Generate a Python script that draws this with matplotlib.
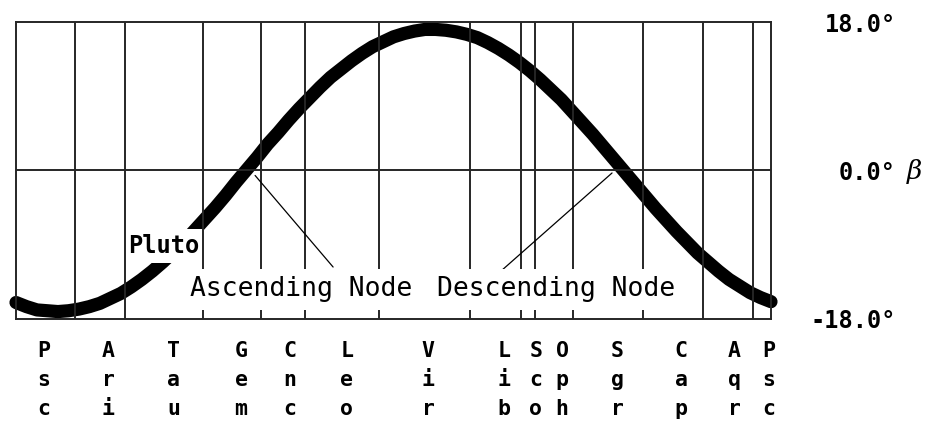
import matplotlib
matplotlib.use("Agg")
import matplotlib.pyplot as plt

# ---- data ----
# ecliptic longitude (deg) and Pluto's ecliptic latitude beta (deg)
longitude = list(range(0, 361, 5))
beta = [-16.0, -16.5, -16.9, -17.0, -17.1, -17.0, -16.8, -16.5, -16.1, -15.5,
        -14.9, -14.1, -13.2, -12.2, -11.1, -9.9, -8.7, -7.3, -5.9, -4.5,
        -3.0, -1.4, 0.1, 1.6, 3.2, 4.6, 6.1, 7.5, 8.8, 10.1,
        11.3, 12.3, 13.3, 14.2, 15.0, 15.6, 16.2, 16.6, 16.9, 17.1,
        17.1, 17.0, 16.8, 16.5, 16.1, 15.5, 14.8, 14.0, 13.1, 12.1,
        11.0, 9.8, 8.6, 7.2, 5.8, 4.4, 2.9, 1.4, -0.1, -1.6,
        -3.1, -4.6, -6.0, -7.4, -8.7, -10.0, -11.1, -12.2, -13.2, -14.0,
        -14.8, -15.4, -15.9]

# constellation boundaries along the ecliptic (deg)
boundaries = [28.1, 52.0, 89.2, 116.8, 137.8, 173.1, 216.7, 240.8, 247.5, 265.5,
              298.9, 327.5, 351.6]

# constellation labels and their longitudes
const_names = ["Psc", "Ari", "Tau", "Gem", "Cnc", "Leo", "Vir", "Lib", "Sco",
               "Oph", "Sgr", "Cap", "Aqr", "Psc"]
const_lons = [13.0, 44.0, 75.3, 107.3, 130.7, 157.8, 196.5, 232.7, 247.8, 260.4,
              286.6, 317.1, 342.4, 359.1]

ytick_vals = [18, 0, -18]
ytick_labels = ["18.0°", "0.0°", "-18.0°"]

asc_node = 110.0
desc_node = 289.8

# ---- figure ----
W, H = 928, 423
fig = plt.figure(figsize=(W / 100, H / 100), dpi=100)
ax = fig.add_axes([16 / W, 1 - 319 / H, 755 / W, 297 / H])
ax.set_xlim(0, 360)
ax.set_ylim(-18, 18)

mono = "DejaVu Sans Mono"
line_col = "#262626"

for s in ax.spines.values():
    s.set_linewidth(1.4)
    s.set_color(line_col)
    s.set_zorder(4)

# grid: constellation boundaries and the ecliptic
for b in boundaries:
    ax.axvline(b, color=line_col, lw=1.4, zorder=4)
ax.axhline(0, color=line_col, lw=1.4, zorder=4)

# Pluto's path
ax.plot(longitude, beta, color="black", lw=9.5, solid_capstyle="round",
        solid_joinstyle="round", zorder=2, clip_on=False)

# label Pluto (white box hides the path underneath)
ax.text(53.4, -10.0, "Pluto", ha="left", va="baseline", fontsize=17,
        family=mono, fontweight="bold", zorder=3,
        bbox=dict(boxstyle="square,pad=0.2", fc="white", ec="none"))

# node annotations
ax.annotate("", xy=(asc_node + 4.0, -0.6), xytext=(151.2, -11.7),
            arrowprops=dict(arrowstyle="-", lw=0.9, color="black",
                            shrinkA=0, shrinkB=0), zorder=5)
ax.annotate("", xy=(desc_node - 5.6, -0.3), xytext=(230.3, -12.4),
            arrowprops=dict(arrowstyle="-", lw=0.9, color="black",
                            shrinkA=0, shrinkB=0), zorder=5)

ax.text(83.0, -15.27, "Ascending Node", ha="left", va="baseline", fontsize=19,
        family=mono, zorder=6,
        bbox=dict(boxstyle="square,pad=0.3", fc="white", ec="none"))
ax.text(200.8, -15.27, "Descending Node", ha="left", va="baseline", fontsize=19,
        family=mono, zorder=6,
        bbox=dict(boxstyle="square,pad=0.3", fc="white", ec="none"))

# constellation labels (letters stacked)
ax.set_xticks(const_lons)
ax.set_xticklabels(["\n".join(n) for n in const_names], family=mono,
                   fontweight="bold", fontsize=15.5, linespacing=1.56)
ax.tick_params(axis="x", length=0, pad=16)

# latitude labels on the right
ax.yaxis.tick_right()
ax.set_yticks(ytick_vals)
ax.set_yticklabels(ytick_labels, family=mono, fontweight="bold", fontsize=17)
ax.tick_params(axis="y", length=0, pad=90)
for lab in ax.get_yticklabels():
    lab.set_horizontalalignment("right")

fig.text(907 / W, 1 - 172 / H, "β", ha="left", va="center", fontsize=19,
         family="DejaVu Serif", style="italic")

fig.savefig("out.png", dpi=100)
